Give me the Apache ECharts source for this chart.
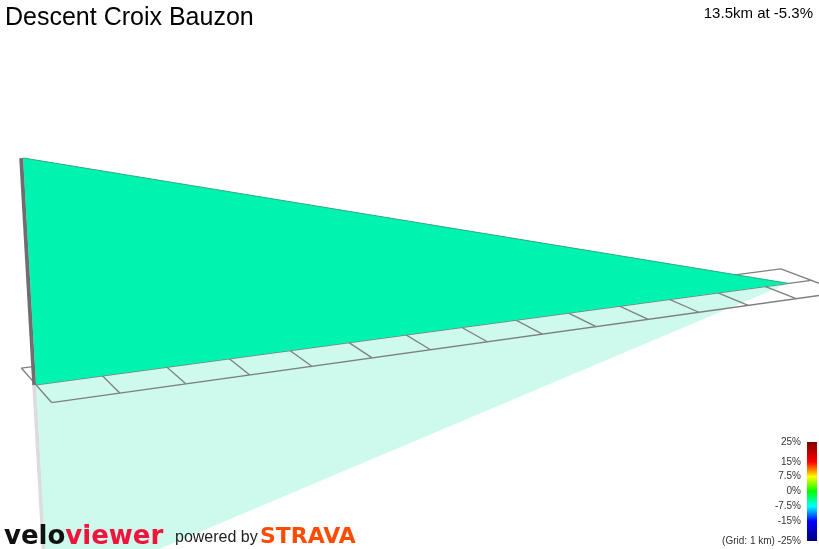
<!DOCTYPE html>
<html><head><meta charset="utf-8">
<script src="https://cdn.jsdelivr.net/npm/echarts@6/dist/echarts.min.js"></script>
<style>html,body{margin:0;padding:0;background:#fff}#c{width:819px;height:549px}</style>
</head><body><div id="c"></div>
<script>
// ---------------- data ----------------
const distanceKm = [0, 13.5];
const elevationM = [1308, 592];
const gridKmLines = [0,1,2,3,4,5,6,7,8,9,10,11,12,13,14];
const gridDepthLines = [0, 1, 2];
const legendGrades = [25, 15, 7.5, 0, -7.5, -15, -25];
const legendLabels = ['25%', '15%', '7.5%', '0%', '-7.5%', '-15%', '(Grid: 1 km) -25%'];
const colourGrades = [25, 15, 11, 7.5, 0, -7.5, -15, -25];
const colourValues = ['#800000', '#ff0000', '#ff8000', '#ffff00', '#00ff00', '#00ffff', '#0000ff', '#000080'];
const titleText = 'Descent Croix Bauzon';
const summaryText = '13.5km at -5.3%';

// ---------------- view calibration (camera) ----------------
const camFront = [[53,402],[120,393],[185,383],[249,374],[311,366],[371,358],[430,349],[487,342],[540,333],[595,327],[648,319],[698,312],[748,305],[797,298]];
const camMiddle = [[37,384],[103,377],[167,368],[230,360],[290,352],[349,343],[407,336],[463,328],[517,321],[569,314],[621,307],[672,300],[721,293],[763,287]];
const camBack = [[0,19,365],[14,777,267]];
const camTip = [13.5, 790, 283];
const camVertical = [[0.716, 22, 158], [-0.716, 47, 596]];

function solveLinear(A, b) {
  const n = b.length;
  const M = A.map((r, i) => r.concat([b[i]]));
  for (let c = 0; c < n; c++) {
    let p = c;
    for (let r = c + 1; r < n; r++) if (Math.abs(M[r][c]) > Math.abs(M[p][c])) p = r;
    const t = M[c]; M[c] = M[p]; M[p] = t;
    for (let r = 0; r < n; r++) {
      if (r === c) continue;
      const f = M[r][c] / M[c][c];
      for (let k = c; k <= n; k++) M[r][k] -= f * M[c][k];
    }
  }
  return M.map((r, i) => r[n] / r[i]);
}
function leastSquares(rows, rhs) {
  const n = rows[0].length;
  const A = Array.from({length: n}, () => new Array(n).fill(0));
  const b = new Array(n).fill(0);
  rows.forEach((r, k) => {
    for (let i = 0; i < n; i++) {
      b[i] += r[i] * rhs[k];
      for (let j = 0; j < n; j++) A[i][j] += r[i] * r[j];
    }
  });
  return solveLinear(A, b);
}
const S = 100;
const anchors = [];
camFront.forEach((p, i) => anchors.push([i, 2, p[0], p[1]]));
camMiddle.forEach((p, i) => anchors.push([i, 1, p[0], p[1]]));
camBack.forEach(p => anchors.push([p[0], 0, p[1], p[2]]));
anchors.push([camTip[0], 1, camTip[1], camTip[2]]);
const hr = [], hb = [];
anchors.forEach(([X, Z, u0, v0]) => {
  const u = u0 / S, v = v0 / S;
  hr.push([X, Z, 1, 0, 0, 0, -u * X, -u * Z]); hb.push(u);
  hr.push([0, 0, 0, X, Z, 1, -v * X, -v * Z]); hb.push(v);
});
const H = leastSquares(hr, hb);
function groundH(X, Z) {
  return [H[0]*X + H[1]*Z + H[2], H[3]*X + H[4]*Z + H[5], H[6]*X + H[7]*Z + 1];
}
const g0 = groundH(0, 1);
const vr = [], vb = [];
camVertical.forEach(([Y, u0, v0]) => {
  const u = u0 / S, v = v0 / S;
  vr.push([Y, 0, -u * Y]); vb.push(u * g0[2] - g0[0]);
  vr.push([0, Y, -v * Y]); vb.push(v * g0[2] - g0[1]);
});
const UP = leastSquares(vr, vb);
function project(X, Y, Z) {
  const w = groundH(X, Z);
  const x = w[0] + Y * UP[0], y = w[1] + Y * UP[1], z = w[2] + Y * UP[2];
  return [S * x / z, S * y / z];
}

// ---------------- chart ----------------
const baseElev = Math.min.apply(null, elevationM);
const heightKm = elevationM.map(e => (e - baseElev) / 1000);
const gridLen = gridKmLines[gridKmLines.length - 1];
const gridDepth = gridDepthLines[gridDepthLines.length - 1];
const wallZ = 1;
const wallColour = '#00f4b0';
const endFace = 0.055;

function renderScene(params, api) {
  const P = (X, Y, Z) => api.coord(project(X, Y, Z));
  const n = distanceKm.length;
  const dEnd = distanceKm[n - 1];
  const h0 = heightKm[0];
  const ch = [];
  // reflection
  const refl = [P(0, 0, wallZ)];
  for (let i = 0; i < n; i++) refl.push(P(distanceKm[i], -heightKm[i], wallZ));
  refl.push(P(dEnd, 0, wallZ));
  ch.push({type: 'polygon', shape: {points: refl}, style: {fill: '#cdfaec'}});
  ch.push({type: 'polygon', shape: {points: [P(-endFace, 0, wallZ), P(0, 0, wallZ), P(0, -h0, wallZ), P(-endFace, -h0, wallZ)]}, style: {fill: '#dcdcdc'}});
  // grid
  gridKmLines.forEach(X => {
    const a = P(X, 0, 0), b = P(X, 0, gridDepth);
    ch.push({type: 'line', shape: {x1: a[0], y1: a[1], x2: b[0], y2: b[1]}, style: {stroke: '#7f7f7f', lineWidth: 1.3}});
  });
  gridDepthLines.forEach(Z => {
    const a = P(0, 0, Z), b = P(gridLen, 0, Z);
    ch.push({type: 'line', shape: {x1: a[0], y1: a[1], x2: b[0], y2: b[1]}, style: {stroke: '#7f7f7f', lineWidth: 1.3}});
  });
  // wall
  const wall = [P(0, 0, wallZ)];
  const top = [];
  for (let i = 0; i < n; i++) { const q = P(distanceKm[i], heightKm[i], wallZ); wall.push(q); top.push(q); }
  wall.push(P(dEnd, 0, wallZ));
  ch.push({type: 'polygon', shape: {points: wall}, style: {fill: wallColour}});
  ch.push({type: 'polyline', shape: {points: top}, style: {stroke: '#2fa883', lineWidth: 1, fill: null}});
  ch.push({type: 'polygon', shape: {points: [P(-endFace, 0, wallZ), P(0, 0, wallZ), P(0, h0, wallZ), P(-endFace, h0, wallZ)]}, style: {fill: '#6e6e6e'}});
  return {type: 'group', children: ch};
}

function renderLegendBar(params, api) {
  const a = api.coord([0, legendGrades[0]]);
  const b = api.coord([1, legendGrades[legendGrades.length - 1]]);
  const span = legendGrades[0] - legendGrades[legendGrades.length - 1];
  const stops = colourGrades.map((g, i) => ({offset: (legendGrades[0] - g) / span, color: colourValues[i]}));
  return {type: 'rect', shape: {x: a[0], y: a[1], width: b[0] - a[0], height: b[1] - a[1]},
    style: {fill: {type: 'linear', x: 0, y: 0, x2: 0, y2: 1, colorStops: stops}}};
}

const chart = echarts.init(document.getElementById('c'), null, {renderer: 'canvas'});
chart.setOption({
  animation: false,
  backgroundColor: '#ffffff',
  grid: [
    {left: 0, top: 0, right: 0, bottom: 0, outerBoundsMode: 'none'},
    {left: 807, top: 442, width: 10, height: 99, outerBoundsMode: 'none'}
  ],
  xAxis: [
    {type: 'value', gridIndex: 0, min: 0, max: 819, show: false},
    {type: 'value', gridIndex: 1, min: 0, max: 1, show: false}
  ],
  yAxis: [
    {type: 'value', gridIndex: 0, min: 0, max: 549, inverse: true, show: false},
    {type: 'value', gridIndex: 1, min: -25, max: 25, position: 'left',
      axisLine: {show: false}, axisTick: {show: false}, splitLine: {show: false},
      axisLabel: {customValues: legendGrades, formatter: v => legendLabels[legendGrades.indexOf(v)],
        fontSize: 10, color: '#333', margin: 6, fontFamily: 'Liberation Sans'}}
  ],
  series: [
    {type: 'custom', xAxisIndex: 0, yAxisIndex: 0, clip: false, silent: true, data: [[0, 0]], renderItem: renderScene, z: 1},
    {type: 'custom', xAxisIndex: 1, yAxisIndex: 1, clip: false, silent: true, data: [[0, 0]], renderItem: renderLegendBar, z: 2}
  ],
  graphic: [
    {type: 'text', x: 5, y: 18.5, z: 10, style: {text: titleText, font: '25px "Liberation Sans"', fill: '#000', verticalAlign: 'middle', textVerticalAlign: 'middle'}},
    {type: 'text', x: 813, y: 14, z: 10, style: {text: summaryText, font: '15px "Liberation Sans"', fill: '#000', align: 'right', textAlign: 'right', verticalAlign: 'middle', textVerticalAlign: 'middle'}},
    {type: 'text', x: 4, y: 537, z: 10, style: {text: '{a|velo}{b|viewer}', font: 'bold 26px "DejaVu Sans"', verticalAlign: 'middle', textVerticalAlign: 'middle',
      rich: {a: {fill: '#111111', font: 'bold 26px "DejaVu Sans"'}, b: {fill: '#f0143c', font: 'bold 26px "DejaVu Sans"'}}}},
    {type: 'text', x: 175, y: 537.5, z: 10, style: {text: 'powered by', font: '16px "Liberation Sans"', fill: '#222', verticalAlign: 'middle', textVerticalAlign: 'middle'}},
    {type: 'text', x: 260, y: 537.5, z: 10, style: {text: 'STRAVA', font: 'bold 22px "DejaVu Sans"', fill: '#fc4c02', verticalAlign: 'middle', textVerticalAlign: 'middle'}}
  ]
});
</script></body></html>
